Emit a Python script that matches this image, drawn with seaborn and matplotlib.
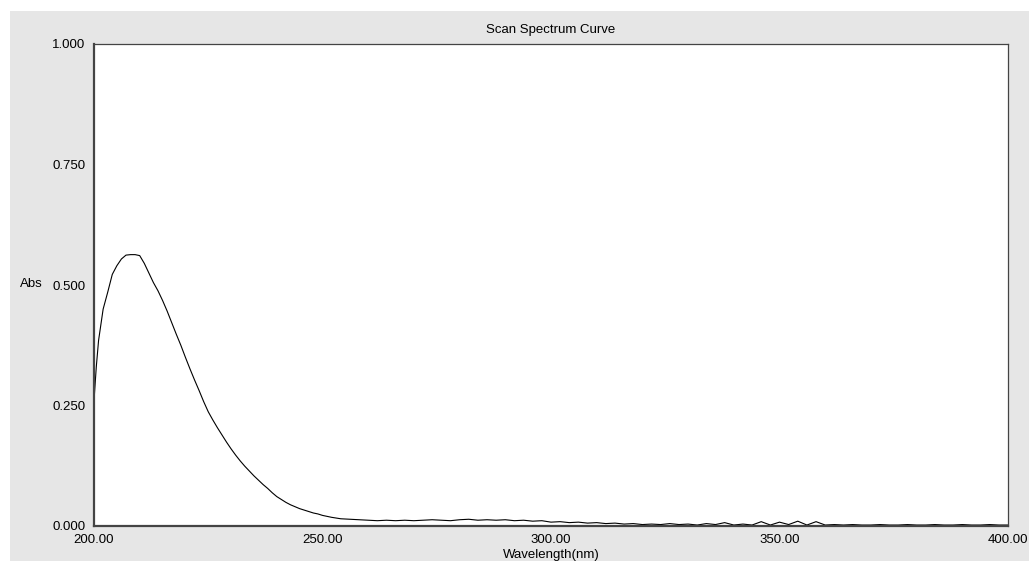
import numpy as np
import pandas as pd
import matplotlib
matplotlib.use('Agg')
import matplotlib.pyplot as plt
import seaborn as sns
from matplotlib.patches import Rectangle
from matplotlib.ticker import StrMethodFormatter

# wavelength (nm) and absorbance
wavelength = [200, 200.5, 201, 202, 203, 204, 205, 206, 207, 208, 209, 210,
              211, 212, 213, 214, 215, 216, 217, 218, 219, 220, 221, 222,
              223, 224, 225, 226, 227, 228, 229, 230, 231, 232, 233, 234,
              235, 236, 237, 238, 239, 240, 241, 242, 243, 244, 245, 246,
              247, 248, 249, 250, 252, 254, 256, 258,
              260, 262, 264, 266, 268, 270, 272, 274, 276, 278, 280, 282,
              284, 286, 288, 290, 292, 294, 296, 298, 300, 302, 304, 306,
              308, 310, 312, 314, 316, 318, 320, 322, 324, 326, 328, 330,
              332, 334, 336, 338, 340, 342, 344, 346, 348, 350, 352, 354,
              356, 358, 360, 362, 364, 366, 368, 370, 372, 374, 376, 378,
              380, 382, 384, 386, 388, 390, 392, 394, 396, 398, 400]
absorbance = [0.260, 0.330, 0.385, 0.450, 0.485, 0.522, 0.540, 0.554, 0.562, 0.563, 0.563, 0.561,
              0.545, 0.525, 0.505, 0.488, 0.468, 0.446, 0.422, 0.398, 0.375, 0.350, 0.326, 0.303,
              0.281, 0.258, 0.237, 0.220, 0.204, 0.189, 0.174, 0.160, 0.147, 0.135, 0.124, 0.114,
              0.104, 0.095, 0.086, 0.078, 0.069, 0.061, 0.055, 0.049, 0.044, 0.040, 0.036, 0.033,
              0.030, 0.027, 0.025, 0.022, 0.018, 0.015, 0.014, 0.013,
              0.012, 0.011, 0.012, 0.011, 0.012, 0.011, 0.012, 0.013, 0.012, 0.011, 0.013, 0.014,
              0.012, 0.013, 0.012, 0.013, 0.011, 0.012, 0.010, 0.011, 0.008, 0.009, 0.007, 0.008,
              0.006, 0.007, 0.005, 0.006, 0.004, 0.005, 0.003, 0.004, 0.003, 0.005, 0.003, 0.004,
              0.002, 0.005, 0.003, 0.007, 0.002, 0.004, 0.002, 0.009, 0.002, 0.008, 0.003, 0.010,
              0.002, 0.009, 0.002, 0.003, 0.002, 0.003, 0.002, 0.002, 0.003, 0.002, 0.002, 0.003,
              0.002, 0.002, 0.003, 0.002, 0.002, 0.003, 0.002, 0.002, 0.003, 0.002, 0.002]

x_ticks = [200, 250, 300, 350, 400]
y_ticks = [0.0, 0.25, 0.5, 0.75, 1.0]

df = pd.DataFrame({'Wavelength': wavelength, 'Abs': absorbance})

plt.rcParams['font.family'] = ['Liberation Sans', 'DejaVu Sans']
plt.rcParams['font.size'] = 9.5

fig = plt.figure(figsize=(10.29, 5.61), dpi=100, facecolor='#e6e6e6')
# white strips at the left and top edge of the screenshot
fig.patches.append(Rectangle((0, 0), 10 / 1029, 1, transform=fig.transFigure,
                             facecolor='white', edgecolor='none', zorder=-1))
fig.patches.append(Rectangle((0, 1 - 11 / 561), 1, 11 / 561, transform=fig.transFigure,
                             facecolor='white', edgecolor='none', zorder=-1))

ax = fig.add_axes([94 / 1029, 35 / 561, 914 / 1029, 482 / 561])
ax.set_facecolor('white')

sns.lineplot(data=df, x='Wavelength', y='Abs', color='black', linewidth=0.8, ax=ax)

ax.set_xlim(200, 400)
ax.set_ylim(0, 1)
ax.set_xticks(x_ticks)
ax.set_yticks(y_ticks)
ax.xaxis.set_major_formatter(StrMethodFormatter('{x:.2f}'))
ax.yaxis.set_major_formatter(StrMethodFormatter('{x:.3f}'))
ax.tick_params(length=0, pad=6, colors='black')

for side in ['left', 'bottom']:
    ax.spines[side].set_linewidth(1.6)
    ax.spines[side].set_color('#444444')
for side in ['top', 'right']:
    ax.spines[side].set_linewidth(0.9)
    ax.spines[side].set_color('#444444')

ax.set_title('Scan Spectrum Curve', fontsize=9.5, pad=8)
ax.set_xlabel('Wavelength(nm)', labelpad=2)
ax.set_ylabel('Abs', rotation=0, ha='center', va='center')
ax.yaxis.set_label_coords(-0.069, 0.502)

fig.savefig('out.png', dpi=100, facecolor=fig.get_facecolor())
